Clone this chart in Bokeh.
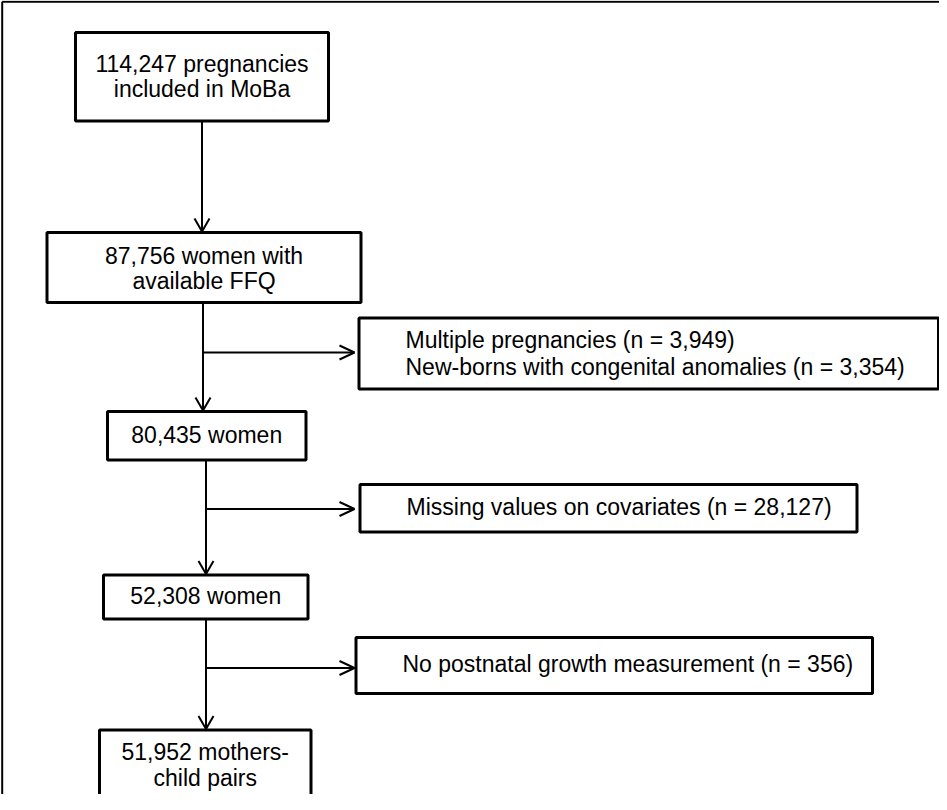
from bokeh.plotting import figure
from bokeh.models import Range1d
from bokeh.core.properties import value
from bokeh.embed import file_html
from bokeh.resources import INLINE

# ---- content (flow chart counts and labels) ----
main_labels = [
    ["114,247 pregnancies", "included in MoBa"],
    ["87,756 women with", "available FFQ"],
    ["80,435 women"],
    ["52,308 women"],
    ["51,952 mothers-", "child pairs"],
]
excl_labels = [
    ["Multiple pregnancies (n = 3,949)", "New-borns with congenital anomalies (n = 3,354)"],
    ["Missing values on covariates (n = 28,127)"],
    ["No postnatal growth measurement (n = 356)"],
]

# ---- layout (page pixel coordinates) ----
W, H = 939, 794
main_left = [83, 54.5, 115, 111, 107]
main_right = [336, 368.5, 313.5, 315.5, 318.5]
main_top = [40, 240, 419, 582.5, 737.5]
main_bottom = [128.5, 310, 467.5, 626.5, 805]
main_text_y = [[71, 96.5], [263, 288.5], [442], [603], [759, 785]]

excl_left = [366.5, 367.5, 363.5]
excl_right = [946, 864.5, 880]
excl_top = [325.5, 492, 645]
excl_bottom = [396.5, 539.5, 701]
excl_text_x = [413, 414, 410]
excl_text_y = [[347.5, 374.5], [514.5], [671]]

stem_x = [209.5, 210.5, 213.5, 213.5]
branch_y = [360, 516.5, 675.5]
branch_tip_x = 362

FONT = value("Liberation Sans")
FS = "23px"

p = figure(width=W, height=H, output_backend="svg", toolbar_location=None,
           x_range=Range1d(8, 8 + W), y_range=Range1d(8 + H, 8),
           min_border=0, background_fill_color="white", border_fill_color="white")
p.axis.visible = False
p.grid.visible = False
p.outline_line_color = None

# outer frame (only top and left edges visible)
p.segment(x0=[9.7, 9.7], y0=[9.3, 9.3], x1=[1000, 9.7], y1=[9.3, 900],
          line_color="black", line_width=2)

# vertical connectors with arrow heads
v_x0, v_y0, v_x1, v_y1 = [], [], [], []
for i in range(4):
    x = stem_x[i]
    y_start = main_bottom[i]
    y_end = main_top[i + 1] - 1
    v_x0 += [x, x - 7.5, x + 7.5]
    v_y0 += [y_start, y_end - 13, y_end - 13]
    v_x1 += [x, x, x]
    v_y1 += [y_end, y_end, y_end]
p.segment(x0=v_x0, y0=v_y0, x1=v_x1, y1=v_y1, line_color="black", line_width=2)

# horizontal branches with arrow heads
h_x0, h_y0, h_x1, h_y1 = [], [], [], []
for i in range(3):
    y = branch_y[i]
    x0 = stem_x[i + 1]
    h_x0 += [x0, branch_tip_x - 15, branch_tip_x - 15]
    h_y0 += [y, y - 7, y + 7]
    h_x1 += [branch_tip_x, branch_tip_x, branch_tip_x]
    h_y1 += [y, y, y]
p.segment(x0=h_x0, y0=h_y0, x1=h_x1, y1=h_y1, line_color="black", line_width=2)

# boxes
p.quad(left=main_left, right=main_right, top=main_top, bottom=main_bottom,
       fill_color="white", line_color="black", line_width=3)
p.quad(left=excl_left, right=excl_right, top=excl_top, bottom=excl_bottom,
       fill_color="white", line_color="black", line_width=3)

# texts
tx, ty, tt = [], [], []
for i, lines in enumerate(main_labels):
    cx = (main_left[i] + main_right[i]) / 2
    for j, s in enumerate(lines):
        tx.append(cx); ty.append(main_text_y[i][j]); tt.append(s)
p.text(x=tx, y=ty, text=tt, text_align="center", text_baseline="middle",
       text_font=FONT, text_font_size=FS, text_color="black")

ex, ey, et = [], [], []
for i, lines in enumerate(excl_labels):
    for j, s in enumerate(lines):
        ex.append(excl_text_x[i]); ey.append(excl_text_y[i][j]); et.append(s)
p.text(x=ex, y=ey, text=et, text_align="left", text_baseline="middle",
       text_font=FONT, text_font_size=FS, text_color="black")

open("out.html", "w").write(file_html(p, INLINE))
